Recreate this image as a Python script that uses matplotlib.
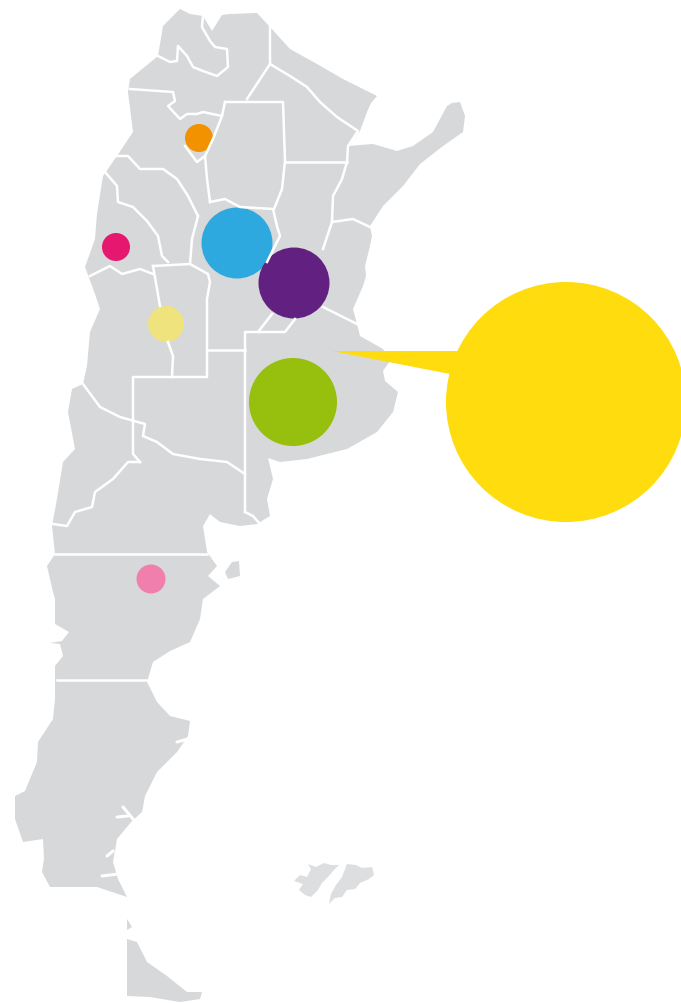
import matplotlib
matplotlib.use('Agg')
import matplotlib.pyplot as plt
from matplotlib.patches import Circle, Polygon

# everything is in image pixels, y pointing down
mainland = [(180,10),(190,15),(203,17),(212,32),(222,16),(230,15),(257,14),(270,28),(290,50),(317,65),(343,80),(377,97),
    (371,104),(367,113),(360,132),(348,147),(373,145),(397,152),(413,147),(433,133),(440,120),(447,107),(452,104),(460,103),
    (465,117),(463,133),(453,140),(443,147),(420,165),(403,187),(383,207),(370,227),(372,237),(370,247),(365,267),(366,277),
    (363,287),(353,310),(357,325),(360,337),(383,350),(390,362),(383,372),(385,382),(398,393),(393,413),(377,433),(347,450),
    (307,460),(280,463),(268,459),(273,480),(267,500),(270,517),(257,525),(240,527),(220,523),(210,515),(203,527),(207,553),
    (217,567),(208,577),(220,587),(203,600),(200,620),(190,643),(170,652),(153,663),(147,683),(157,703),(170,717),(190,722),
    (188,737),(177,753),(157,773),(145,797),(142,813),(132,822),(117,840),(113,863),(118,880),(127,898),(97,888),(50,888),
    (42,873),(44,860),(43,840),(23,843),(15,820),(15,797),(25,792),(37,763),(38,743),(53,720),(55,700),(55,683),(55,667),
    (63,657),(60,645),(50,644),(62,642),(69,633),(62,629),(55,625),(55,600),(53,593),(47,567),(55,555),(52,527),(57,500),
    (63,463),(75,450),(68,413),(72,390),(83,385),(87,367),(90,333),(100,310),(95,295),(85,268),(95,240),(97,215),(103,177),
    (117,157),(133,133),(128,93),(130,80),(158,57),(163,27)]
fuego = [(127,940),(137,943),(147,963),(167,977),(187,993),(202,993),(200,1000),(180,1003),(150,998),(127,997)]
staten = [(127,920),(132,928),(127,931)]
valdes = [(232,563),(239,562),(240,577),(228,580),(225,573)]
falkland_w = [(294,882),(300,876),(307,878),(311,870),(308,865),(316,868),(324,864),(331,866),(339,866),(333,872),(328,878),
    (322,884),(318,891),(311,898),(305,896),(299,891),(303,885)]
falkland_e = [(347,865),(356,866),(362,869),(372,868),(374,876),(369,880),(360,884),(355,890),(347,891),(342,898),(335,899),
    (329,905),(331,895),(336,886),(342,878)]

borders = [
    [(203,17),(202,28),(210,42),(215,48),(227,50),(228,68),(217,77),(203,72),(193,68),(187,57),(178,47),(177,62),(170,63),(158,57)],
    [(270,28),(270,65),(290,77),(307,88),(320,103),(337,118),(358,132),(348,147),(347,163),(342,180),(333,197),(332,223),(323,250)],
    [(270,65),(247,100)],
    [(225,103),(283,103),(285,162),(282,190),(274,210)],
    [(285,163),(347,163)],
    [(332,223),(353,220),(370,228)],
    [(130,90),(173,93),(175,102),(168,107),(180,120),(187,115),(197,115),(203,113),(222,117)],
    [(225,103),(222,117),(213,140),(205,157),(207,180),(210,203)],
    [(185,147),(197,163),(205,157)],
    [(117,157),(128,157),(140,170),(163,170),(177,180),(188,197),(198,217)],
    [(105,173),(117,187),(118,203),(133,208),(147,222),(158,237),(162,257),(168,263)],
    [(198,217),(192,240),(190,265),(208,275),(210,283),(207,300),(207,378),(133,378),(133,455),(140,463)],
    [(153,267),(190,265)],
    [(153,267),(160,307)],
    [(90,277),(110,267),(122,275),(140,270),(153,275)],
    [(210,203),(225,200),(240,208),(273,210),(277,227),(280,237),(267,263)],
    [(207,351),(245,351)],
    [(245,513),(245,333),(285,333),(295,320)],
    [(258,333),(272,315)],
    [(323,308),(357,325)],
    [(168,343),(173,357),(172,378)],
    [(83,385),(100,408),(120,418),(145,425),(143,437),(157,443),(173,455),(200,460),(227,463),(245,475)],
    [(140,463),(128,463),(113,480),(95,493),(92,508),(75,513),(67,527),(53,525)],
    [(55,555),(207,555)],
    [(57,681),(147,681)],
    [(245,513),(253,517),(260,525)],
]
inlets = [
    [(177,743),(188,740)],
    [(117,818),(128,817)],
    [(123,808),(133,820)],
    [(102,877),(118,875)],
    [(107,857),(113,852)],
]

bubble_x = [566, 293, 237, 294, 166, 199, 116, 151]
bubble_y = [403, 403, 244, 284, 325, 139, 248, 580]
bubble_r = [120, 44, 35.5, 35.5, 18, 14, 14, 14.5]
bubble_c = ['#FFDC0E', '#97BF0D', '#2EA9DF', '#622181', '#EFE37E', '#F39200', '#E5176F', '#F07FAE']
pointer = [(332,352),(465,352),(450,375)]

grey = '#D7D8DA'

fig = plt.figure(figsize=(6.81, 10.04), dpi=100)
ax = fig.add_axes([0, 0, 1, 1])
ax.set_xlim(0, 681)
ax.set_ylim(1004, 0)
ax.axis('off')

for shape in [mainland, fuego, staten, valdes]:
    ax.add_patch(Polygon(shape, closed=True, fc=grey, ec='none'))
for shape in [falkland_w, falkland_e]:
    ax.add_patch(Polygon(shape, closed=True, fc='#DDDEDF', ec='none'))

for line in borders:
    ax.plot([p[0] for p in line], [p[1] for p in line], color='white', lw=1.8, solid_joinstyle='round')
for line in inlets:
    ax.plot([p[0] for p in line], [p[1] for p in line], color='white', lw=2.2, solid_capstyle='round')

ax.add_patch(Polygon(pointer, closed=True, fc=bubble_c[0], ec='none'))
for x, y, r, c in zip(bubble_x, bubble_y, bubble_r, bubble_c):
    ax.add_patch(Circle((x, y), r, fc=c, ec='none'))

fig.savefig('out.png', dpi=100)
